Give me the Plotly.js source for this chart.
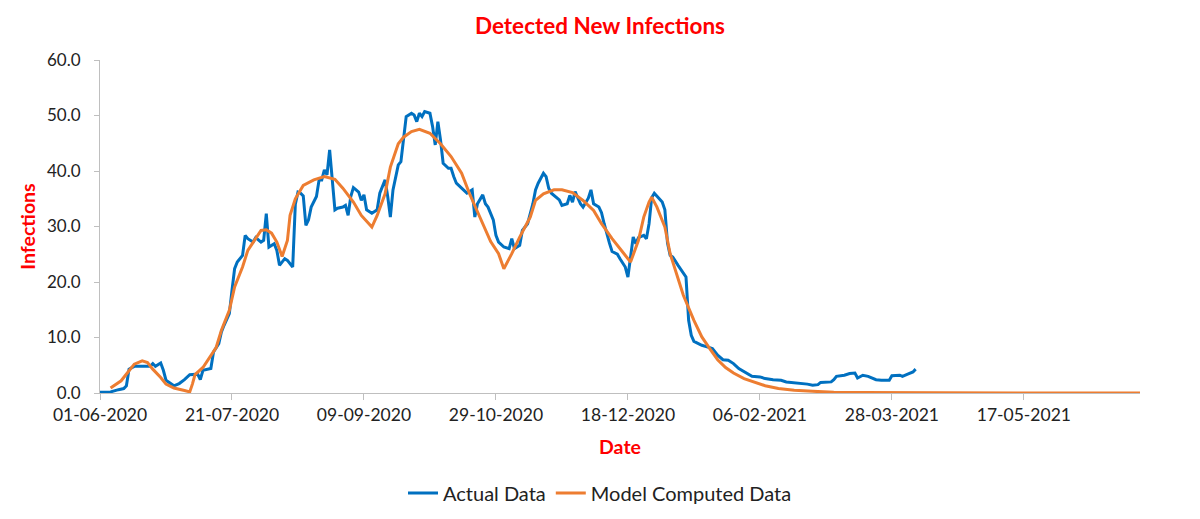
<!DOCTYPE html>
<html>
<head>
<meta charset="utf-8">
<script src="https://cdn.plot.ly/plotly-3.0.1.min.js"></script>
<style>html,body{margin:0;padding:0;background:#fff;}#chart{width:1200px;height:519px;}</style>
</head>
<body>
<div id="chart"></div>
<script>
// ---- data (day offsets from startDate) ----
var startDate = '2020-06-01';
var rangeEnd = '2021-06-30';

var actualDays = [0,4,7,9,10,11,13,19,20,21,23,24,25,28,30,32,34,37,38,39,42,43,45,46,47,49,50,51,52,54,55,56,58,59,61,62,63,64,66,67,68,70,71,72,73,74,75,76,77,78,79,80,82,83,84,85,86,87,88,89,90,92,93,94,95,96,98,99,100,101,103,105,106,108,109,110,111,113,114,115,116,118,119,120,121,122,123,125,126,127,128,129,130,132,133,134,135,137,139,141,142,143,145,146,147,149,150,151,153,155,156,157,159,160,162,164,165,166,168,169,170,171,173,174,175,177,178,179,180,182,183,185,186,187,189,190,191,192,193,194,196,197,199,200,201,202,203,204,206,207,208,209,210,212,213,214,215,216,217,219,221,222,223,224,225,228,230,232,234,236,238,240,242,245,247,250,252,255,258,260,263,265,268,270,272,273,275,277,278,279,282,284,286,287,289,291,294,296,299,300,303,304,306,308,309];
var actualValues = [0.15,0.2,0.6,0.8,1.3,4.3,4.8,4.8,5.3,4.8,5.4,4.1,2.3,1.3,1.7,2.4,3.3,3.4,2.4,4.1,4.4,7.4,8.9,11.0,12.2,14.3,18.5,22.4,23.6,24.8,28.4,27.8,27.2,28.0,27.2,27.5,32.3,26.3,26.9,25.7,23.0,24.2,23.9,23.3,22.7,34.0,36.2,36.0,35.5,30.2,31.2,33.5,35.4,38.4,38.4,40.2,39.3,43.8,39.0,33.0,33.3,33.5,33.8,32.0,35.4,37.0,36.2,34.7,35.7,33.0,32.4,33.0,36.0,38.4,35.4,31.7,36.6,41.1,41.7,46.2,49.8,50.4,50.1,48.9,50.4,49.8,50.7,50.4,48.0,44.7,48.9,45.6,41.4,40.5,40.5,39.0,37.8,36.9,36.0,36.6,31.7,34.1,35.7,34.1,33.5,31.2,28.4,27.2,26.3,26.0,27.8,26.0,26.6,29.3,30.5,34.1,36.6,37.8,39.6,39.0,36.9,36.0,35.1,34.8,33.8,34.1,35.6,34.4,36.3,34.1,33.5,35.1,36.6,34.1,33.5,32.5,30.5,28.5,27.0,25.5,25.0,24.2,22.7,20.9,25.0,28.1,26.9,28.0,28.4,27.8,30.5,35.2,36.0,35.0,34.4,33.0,27.0,24.8,24.5,23.0,21.5,20.9,13.1,10.4,9.3,8.6,8.3,8.0,6.8,6.0,5.9,5.3,4.4,3.6,3.0,2.9,2.6,2.4,2.3,2.0,1.9,1.7,1.6,1.4,1.5,1.9,2.0,2.0,2.4,3.0,3.2,3.5,3.6,2.7,3.2,3.0,2.4,2.3,2.3,3.1,3.2,3.0,3.4,3.8,4.3];

var modelDays = [4,8,11,13,16,18,20,23,25,28,32,34,35,36,39,41,44,46,49,51,54,56,59,61,63,65,67,69,71,72,74,77,81,85,89,92,96,99,103,105,108,110,113,115,118,121,125,129,133,137,140,144,148,151,153,156,159,163,165,168,172,175,179,183,187,190,194,198,201,204,206,208,209,211,214,216,219,221,225,228,231,234,237,240,244,248,252,257,263,270,278,289,310,350,394];
var modelValues = [0.9,2.2,4.0,5.2,5.8,5.5,4.3,2.8,1.6,0.9,0.45,0.2,1.6,3.3,4.6,6.1,8.2,11.3,14.9,19.1,22.7,25.7,28.0,29.3,29.4,28.8,27.2,24.6,27.5,32.0,35.0,37.4,38.4,39.0,38.5,36.9,34.4,32.0,29.9,32.0,35.9,40.7,44.9,46.1,47.1,47.5,46.8,44.9,42.6,39.6,35.9,31.5,27.3,25.1,22.4,25.1,28.1,31.7,34.7,35.9,36.6,36.6,36.1,34.7,32.9,30.5,27.8,25.4,23.6,27.5,31.7,34.4,35.3,33.5,29.9,25.1,20.5,17.6,13.1,10.1,8.0,6.0,4.6,3.6,2.6,1.9,1.3,0.8,0.5,0.3,0.15,0.08,0.03,0.0,0.0];

var tickDates = ['2020-06-01','2020-07-21','2020-09-09','2020-10-29','2020-12-18','2021-02-06','2021-03-28','2021-05-17'];
var tickLabels = ['01-06-2020','21-07-2020','09-09-2020','29-10-2020','18-12-2020','06-02-2021','28-03-2021','17-05-2021'];
var yTicks = [0,10,20,30,40,50,60];

var seriesNames = ['Actual Data','Model Computed Data'];
var chartTitle = 'Detected New Infections';
var xTitle = 'Date';
var yTitle = 'Infections';

// ---- helpers ----
function toDate(d) {
  var t = Date.UTC(2020, 5, 1) + d * 86400000;
  return new Date(t).toISOString().slice(0, 10);
}

var FONT = 'Lato, "Open Sans", sans-serif';
var RED = '#FF0000';
var AXIS = '#BFBFBF';

var traces = [
  {
    x: actualDays.map(toDate), y: actualValues, name: seriesNames[0],
    type: 'scatter', mode: 'lines',
    line: {color: '#0070C0', width: 3}
  },
  {
    x: modelDays.map(toDate), y: modelValues, name: seriesNames[1],
    type: 'scatter', mode: 'lines',
    line: {color: '#ED7D31', width: 3}
  }
];

var layout = {
  width: 1200, height: 519,
  paper_bgcolor: '#fff', plot_bgcolor: '#fff',
  margin: {l: 100, r: 60, t: 60, b: 126},
  font: {family: FONT, size: 17, color: '#222'},
  title: {text: '<b>' + chartTitle + '</b>', x: 0.5, xanchor: 'center', y: 0.95, yanchor: 'middle',
          font: {family: FONT, size: 22.5, color: RED}},
  xaxis: {
    type: 'date', range: [startDate, rangeEnd],
    tickvals: tickDates, ticktext: tickLabels,
    showgrid: false, zeroline: false,
    showline: true, linecolor: AXIS, linewidth: 1,
    ticks: 'outside', ticklen: 6, tickcolor: AXIS,
    tickfont: {family: FONT, size: 17.5, color: '#222'},
    title: {text: '<b>' + xTitle + '</b>', standoff: 16, font: {family: FONT, size: 19.5, color: RED}},
    automargin: false
  },
  yaxis: {
    range: [0, 60], tickvals: yTicks, tickformat: '.1f',
    showgrid: false, zeroline: false,
    showline: true, linecolor: AXIS, linewidth: 1,
    ticks: 'outside', ticklen: 5, tickcolor: AXIS, ticklabelstandoff: 10,
    tickfont: {family: FONT, size: 17, color: '#222'},
    title: {text: '<b>' + yTitle + '</b>', standoff: 6, font: {family: FONT, size: 19.5, color: RED}},
    automargin: false
  },
  showlegend: true,
  legend: {orientation: 'h', x: 0.5, xanchor: 'center', xref: 'container',
           y: 0.05, yanchor: 'middle', yref: 'container',
           font: {family: FONT, size: 20, color: '#222'}, itemwidth: 30, traceorder: 'normal'}
};

Plotly.newPlot('chart', traces, layout, {displayModeBar: false, staticPlot: true});
</script>
</body>
</html>
